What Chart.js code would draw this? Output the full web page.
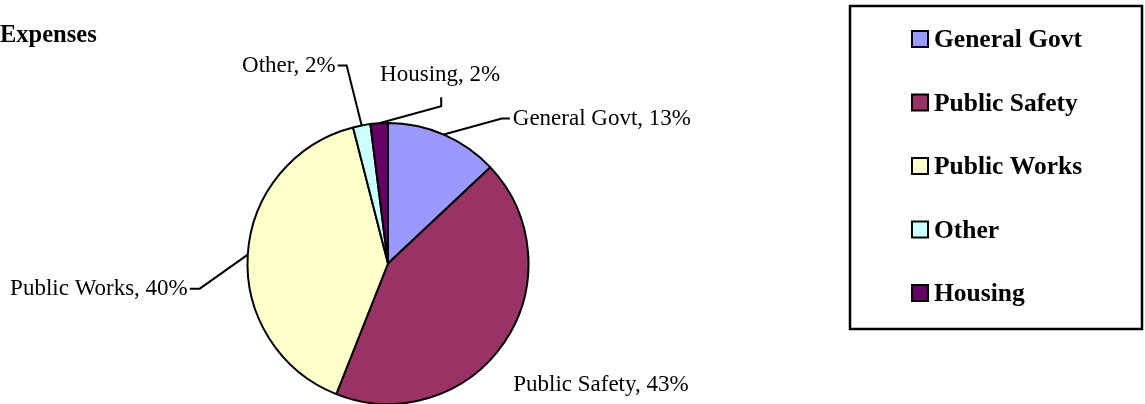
<!DOCTYPE html>
<html>
<head>
<meta charset="utf-8">
<script src="https://cdn.jsdelivr.net/npm/chart.js@4.4.1/dist/chart.umd.min.js"></script>
<style>
html,body{margin:0;padding:0;background:#fff;}
#wrap{width:1145px;height:404px;position:relative;}
</style>
</head>
<body>
<div id="wrap"><canvas id="c" width="1145" height="404"></canvas></div>
<script>
// ---- data ----
const chartTitle = 'Expenses';
const categories = ['General Govt', 'Public Safety', 'Public Works', 'Other', 'Housing'];
const values = [13, 43, 40, 2, 2];
const colors = ['#9999FF', '#993366', '#FFFFCC', '#CCFFFF', '#660066'];

// ---- label / leader style (offsets relative to slice edge) ----
const leaderStyle = [
  {elbow: [58, -16], tail: [8, 0], text: [3, 0], align: 'left'},
  {elbow: null, tail: null, text: [9, 42], align: 'left'},
  {elbow: [-48, 34], tail: [-10, 0], text: [-2, 0], align: 'right'},
  {elbow: [-15, -60], tail: [-9, 0], text: [-2, 0], align: 'right'},
  {elbow: [62, -17], tail: [0, -9], text: [-1, -22], align: 'center'}
];

const labelFont = '23px "Liberation Serif", "Times New Roman", serif';
const legendFont = 'bold 25.5px "Liberation Serif", "Times New Roman", serif';
const titleFont = 'bold 24.5px "Liberation Serif", "Times New Roman", serif';

const extras = {
  id: 'extras',
  afterDatasetsDraw(chart) {
    const ctx = chart.ctx;
    const meta = chart.getDatasetMeta(0);
    const data = chart.data.datasets[0].data;
    const total = data.reduce((a, b) => a + b, 0);
    ctx.save();
    // title
    ctx.font = titleFont;
    ctx.fillStyle = '#000';
    ctx.textAlign = 'left';
    ctx.textBaseline = 'middle';
    ctx.fillText(chartTitle, 0, 36);

    // slice labels with leader lines
    ctx.font = labelFont;
    ctx.strokeStyle = '#000';
    ctx.lineWidth = 2;
    meta.data.forEach((arc, i) => {
      const p = arc.getProps(['x', 'y', 'startAngle', 'endAngle', 'outerRadius'], true);
      const mid = (p.startAngle + p.endAngle) / 2;
      const ex = p.x + Math.cos(mid) * p.outerRadius;
      const ey = p.y + Math.sin(mid) * p.outerRadius;
      const st = leaderStyle[i];
      let tx = ex, ty = ey;
      if (st.elbow) {
        const bx = ex + st.elbow[0], by = ey + st.elbow[1];
        tx = bx + st.tail[0]; ty = by + st.tail[1];
        ctx.beginPath();
        ctx.moveTo(ex, ey);
        ctx.lineTo(bx, by);
        ctx.lineTo(tx, ty);
        ctx.stroke();
      }
      const pct = Math.round(data[i] / total * 100);
      ctx.textAlign = st.align;
      ctx.textBaseline = 'middle';
      ctx.fillText(chart.data.labels[i] + ', ' + pct + '%', tx + st.text[0], ty + st.text[1]);
    });

    // legend box
    ctx.lineWidth = 2.5;
    ctx.strokeRect(850, 6, 292, 323);
    ctx.font = legendFont;
    ctx.textAlign = 'left';
    ctx.textBaseline = 'middle';
    chart.data.labels.forEach((lab, i) => {
      const cy = 39 + i * 63.5;
      ctx.fillStyle = chart.data.datasets[0].backgroundColor[i];
      ctx.fillRect(912, cy - 8, 16, 16);
      ctx.lineWidth = 2;
      ctx.strokeStyle = '#000';
      ctx.strokeRect(912, cy - 8, 16, 16);
      ctx.fillStyle = '#000';
      ctx.fillText(lab, 934, cy + 1.5);
    });
    ctx.restore();
  }
};

new Chart(document.getElementById('c'), {
  type: 'pie',
  data: {
    labels: categories,
    datasets: [{
      data: values,
      backgroundColor: colors,
      borderColor: '#000',
      borderWidth: 2,
      borderAlign: 'center'
    }]
  },
  options: {
    responsive: false,
    animation: false,
    radius: 140.5,
    layout: {padding: {left: 0, right: 369, top: 123, bottom: 0}},
    plugins: {
      legend: {display: false},
      tooltip: {enabled: false},
      title: {display: false}
    }
  },
  plugins: [extras]
});
</script>
</body>
</html>
